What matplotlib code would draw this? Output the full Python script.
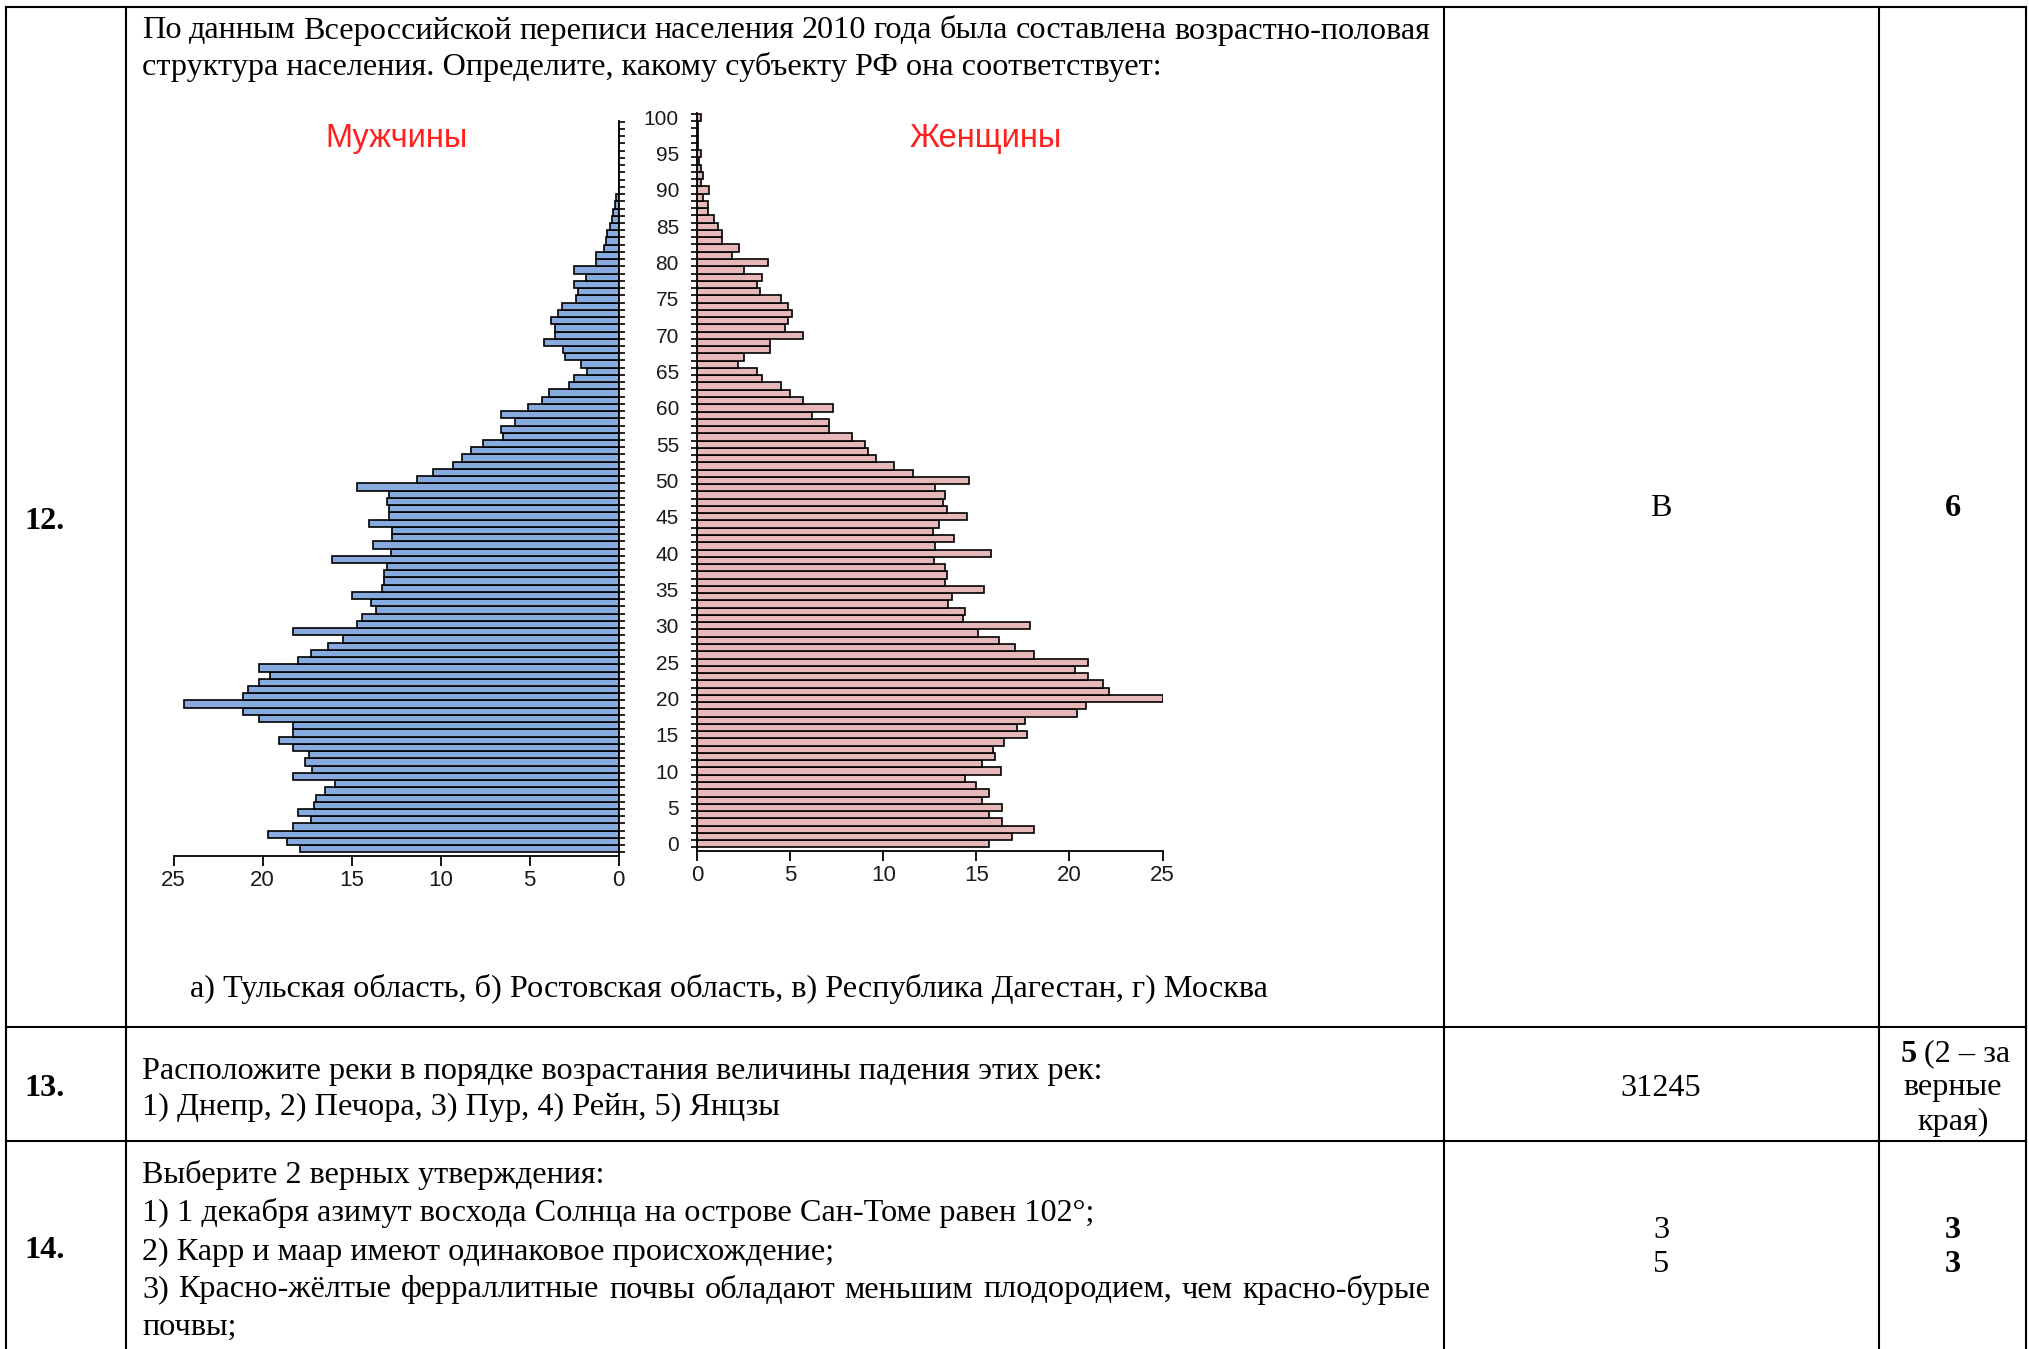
import matplotlib
matplotlib.use("Agg")
import matplotlib.pyplot as plt
import numpy as np
from matplotlib.lines import Line2D

W, H = 2029, 1349

# population pyramid, per mille by single year of age (0..100)
ages = np.arange(0, 101)
male = [17.9, 18.6, 19.7, 18.3, 17.3, 18.0, 17.1, 17.0, 16.5, 15.9,
        18.3, 17.2, 17.6, 17.4, 18.3, 19.1, 18.3, 18.3, 20.2, 21.1,
        24.4, 21.1, 20.8, 20.2, 19.6, 20.2, 18.0, 17.3, 16.3, 15.5,
        18.3, 14.7, 14.4, 13.6, 13.9, 15.0, 13.3, 13.2, 13.2, 13.0,
        16.1, 12.8, 13.8, 12.7, 12.7, 14.0, 12.9, 12.9, 13.0, 12.9,
        14.7, 11.3, 10.4, 9.3, 8.8, 8.3, 7.6, 6.5, 6.6, 5.8,
        6.6, 5.1, 4.3, 3.9, 2.8, 2.5, 1.75, 2.1, 3.0, 3.1,
        4.2, 3.55, 3.55, 3.8, 3.4, 3.2, 2.4, 2.3, 2.5, 1.85,
        2.5, 1.26, 1.26, 0.83, 0.68, 0.64, 0.45, 0.35, 0.3, 0.2,
        0.14, 0, 0, 0, 0, 0, 0, 0, 0, 0, 0]
female = [15.7, 16.9, 18.1, 16.4, 15.7, 16.4, 15.3, 15.7, 15.0, 14.4,
          16.3, 15.3, 16.0, 15.9, 16.5, 17.7, 17.2, 17.6, 20.4, 20.9,
          25.0, 22.1, 21.8, 21.0, 20.3, 21.0, 18.1, 17.1, 16.2, 15.1,
          17.9, 14.3, 14.4, 13.5, 13.7, 15.4, 13.3, 13.4, 13.3, 12.75,
          15.8, 12.8, 13.8, 12.7, 13.0, 14.5, 13.4, 13.2, 13.3, 12.8,
          14.6, 11.6, 10.6, 9.6, 9.2, 9.0, 8.3, 7.1, 7.1, 6.2,
          7.3, 5.7, 5.0, 4.5, 3.5, 3.2, 2.2, 2.5, 3.9, 3.9,
          5.7, 4.7, 4.9, 5.1, 4.9, 4.5, 3.4, 3.2, 3.5, 2.5,
          3.8, 1.9, 2.25, 1.35, 1.35, 1.15, 0.9, 0.6, 0.6, 0.3,
          0.65, 0.2, 0.3, 0.2, 0.1, 0.2, 0.05, 0.05, 0.05, 0.05, 0.2]
age_labels = np.arange(0, 101, 5)
x_ticks = [0, 5, 10, 15, 20, 25]

plt.rcParams['font.family'] = ['Liberation Sans', 'DejaVu Sans']
SERIF = ['Liberation Serif', 'DejaVu Serif']
FS = 23.2
DY = 3  # small vertical nudge for table text

fig = plt.figure(figsize=(W / 100, H / 100), dpi=100)
fig.patch.set_facecolor('white')

def fx(x):
    return x / W

def fy(y):
    return 1 - y / H

def hline(x0, x1, y, lw=1.5):
    fig.add_artist(Line2D([fx(x0), fx(x1)], [fy(y), fy(y)], color='black', lw=lw))

def vline(x, y0, y1, lw=1.5):
    fig.add_artist(Line2D([fx(x), fx(x)], [fy(y0), fy(y1)], color='black', lw=lw))

def txt(x, y, s, ha='left', bold=False, **kw):
    return fig.text(fx(x), fy(y + DY), s, ha=ha, va='center', family=SERIF, fontsize=FS,
                    fontweight='bold' if bold else 'normal', **kw)

def justify(s, x0, x1, y):
    words = s.split(' ')
    r = fig.canvas.get_renderer()
    ts = [txt(0, y, w) for w in words]
    ws = [t.get_window_extent(r).width for t in ts]
    gap = (x1 - x0 - sum(ws)) / (len(words) - 1)
    x = x0
    for t, w in zip(ts, ws):
        t.set_x(fx(x))
        x += w + gap

# table grid
cols = [6, 126, 1444, 1879, 2026]
rows = [7, 1027, 1141]
for y in rows:
    hline(cols[0], cols[-1], y)
for x in cols:
    vline(x, rows[0], H + 5)

# row 12
justify('По данным Всероссийской переписи населения 2010 года была составлена возрастно-половая',
        142, 1430, 28)
txt(142, 64, 'структура населения. Определите, какому субъекту РФ она соответствует:')
txt(24, 519, '12.', bold=True)
txt(1661, 506, 'В', ha='center')
txt(1953, 506, '6', ha='center', bold=True)
txt(190, 986, 'а) Тульская область, б) Ростовская область, в) Республика Дагестан, г) Москва')

# row 13
txt(24, 1085, '13.', bold=True)
txt(142, 1068, 'Расположите реки в порядке возрастания величины падения этих рек:')
txt(142, 1104, '1) Днепр, 2) Печора, 3) Пур, 4) Рейн, 5) Янцзы')
txt(1661, 1085, '31245', ha='center')
txt(1901, 1051, '5', bold=True)
txt(1924, 1051, '(2 – за')
txt(1953, 1085, 'верные', ha='center')
txt(1953, 1119, 'края)', ha='center')

# row 14
txt(24, 1247, '14.', bold=True)
txt(142, 1172, 'Выберите 2 верных утверждения:')
txt(142, 1210, '1) 1 декабря азимут восхода Солнца на острове Сан-Томе равен 102°;')
txt(142, 1249, '2) Карр и маар имеют одинаковое происхождение;')
justify('3) Красно-жёлтые ферраллитные почвы обладают меньшим плодородием, чем красно-бурые',
        142, 1430, 1287)
txt(142, 1324, 'почвы;')
txt(1661, 1228, '3', ha='center')
txt(1661, 1262, '5', ha='center')
txt(1953, 1228, '3', ha='center', bold=True)
txt(1953, 1262, '3', ha='center', bold=True)

# pyramid
blue = '#87abdf'
pink = '#e6b9b8'
ylim = (-1.0, 100.6)
bounds = np.arange(-0.5, 101, 1)

ax_m = fig.add_axes([fx(173.5), fy(856), (618.5 - 173.5) / W, (856 - 121) / H])
ax_m.barh(ages, male, height=1, color=blue, edgecolor='black', linewidth=1.2)
ax_m.set_xlim(25, 0)
ax_m.set_ylim(*ylim)
ax_f = fig.add_axes([fx(697), fy(851), (1162.5 - 697) / W, (851 - 113) / H])
ax_f.barh(ages, female, height=1, color=pink, edgecolor='black', linewidth=1.2)
ax_f.set_xlim(0, 25)
ax_f.set_ylim(*ylim)

for ax in (ax_m, ax_f):
    ax.set_facecolor('none')
    ax.spines['top'].set_visible(False)
    for s in ax.spines.values():
        s.set_linewidth(1.3)
    ax.set_xticks(x_ticks)
    ax.tick_params(axis='x', length=7, width=1.3, pad=3, labelsize=16, labelcolor='#1a1a1a')
    ax.set_yticks(bounds, minor=True)

ax_m.spines['left'].set_visible(False)
ax_m.set_yticks([])
ax_m.tick_params(axis='y', which='minor', left=False, right=True, length=4.3, width=1.2)

ax_f.spines['right'].set_visible(False)
ax_f.set_yticks(age_labels)
ax_f.tick_params(axis='y', which='major', length=0, pad=13, labelsize=15, labelcolor='#1a1a1a')
ax_f.tick_params(axis='y', which='minor', length=4.6, width=1.2)

fig.text(fx(397), fy(139), 'Мужчины', ha='center', va='center', color='#ff2020', fontsize=23.5)
fig.text(fx(986), fy(139), 'Женщины', ha='center', va='center', color='#ff2020', fontsize=23.5)

fig.savefig('out.png', dpi=100, facecolor='white')
